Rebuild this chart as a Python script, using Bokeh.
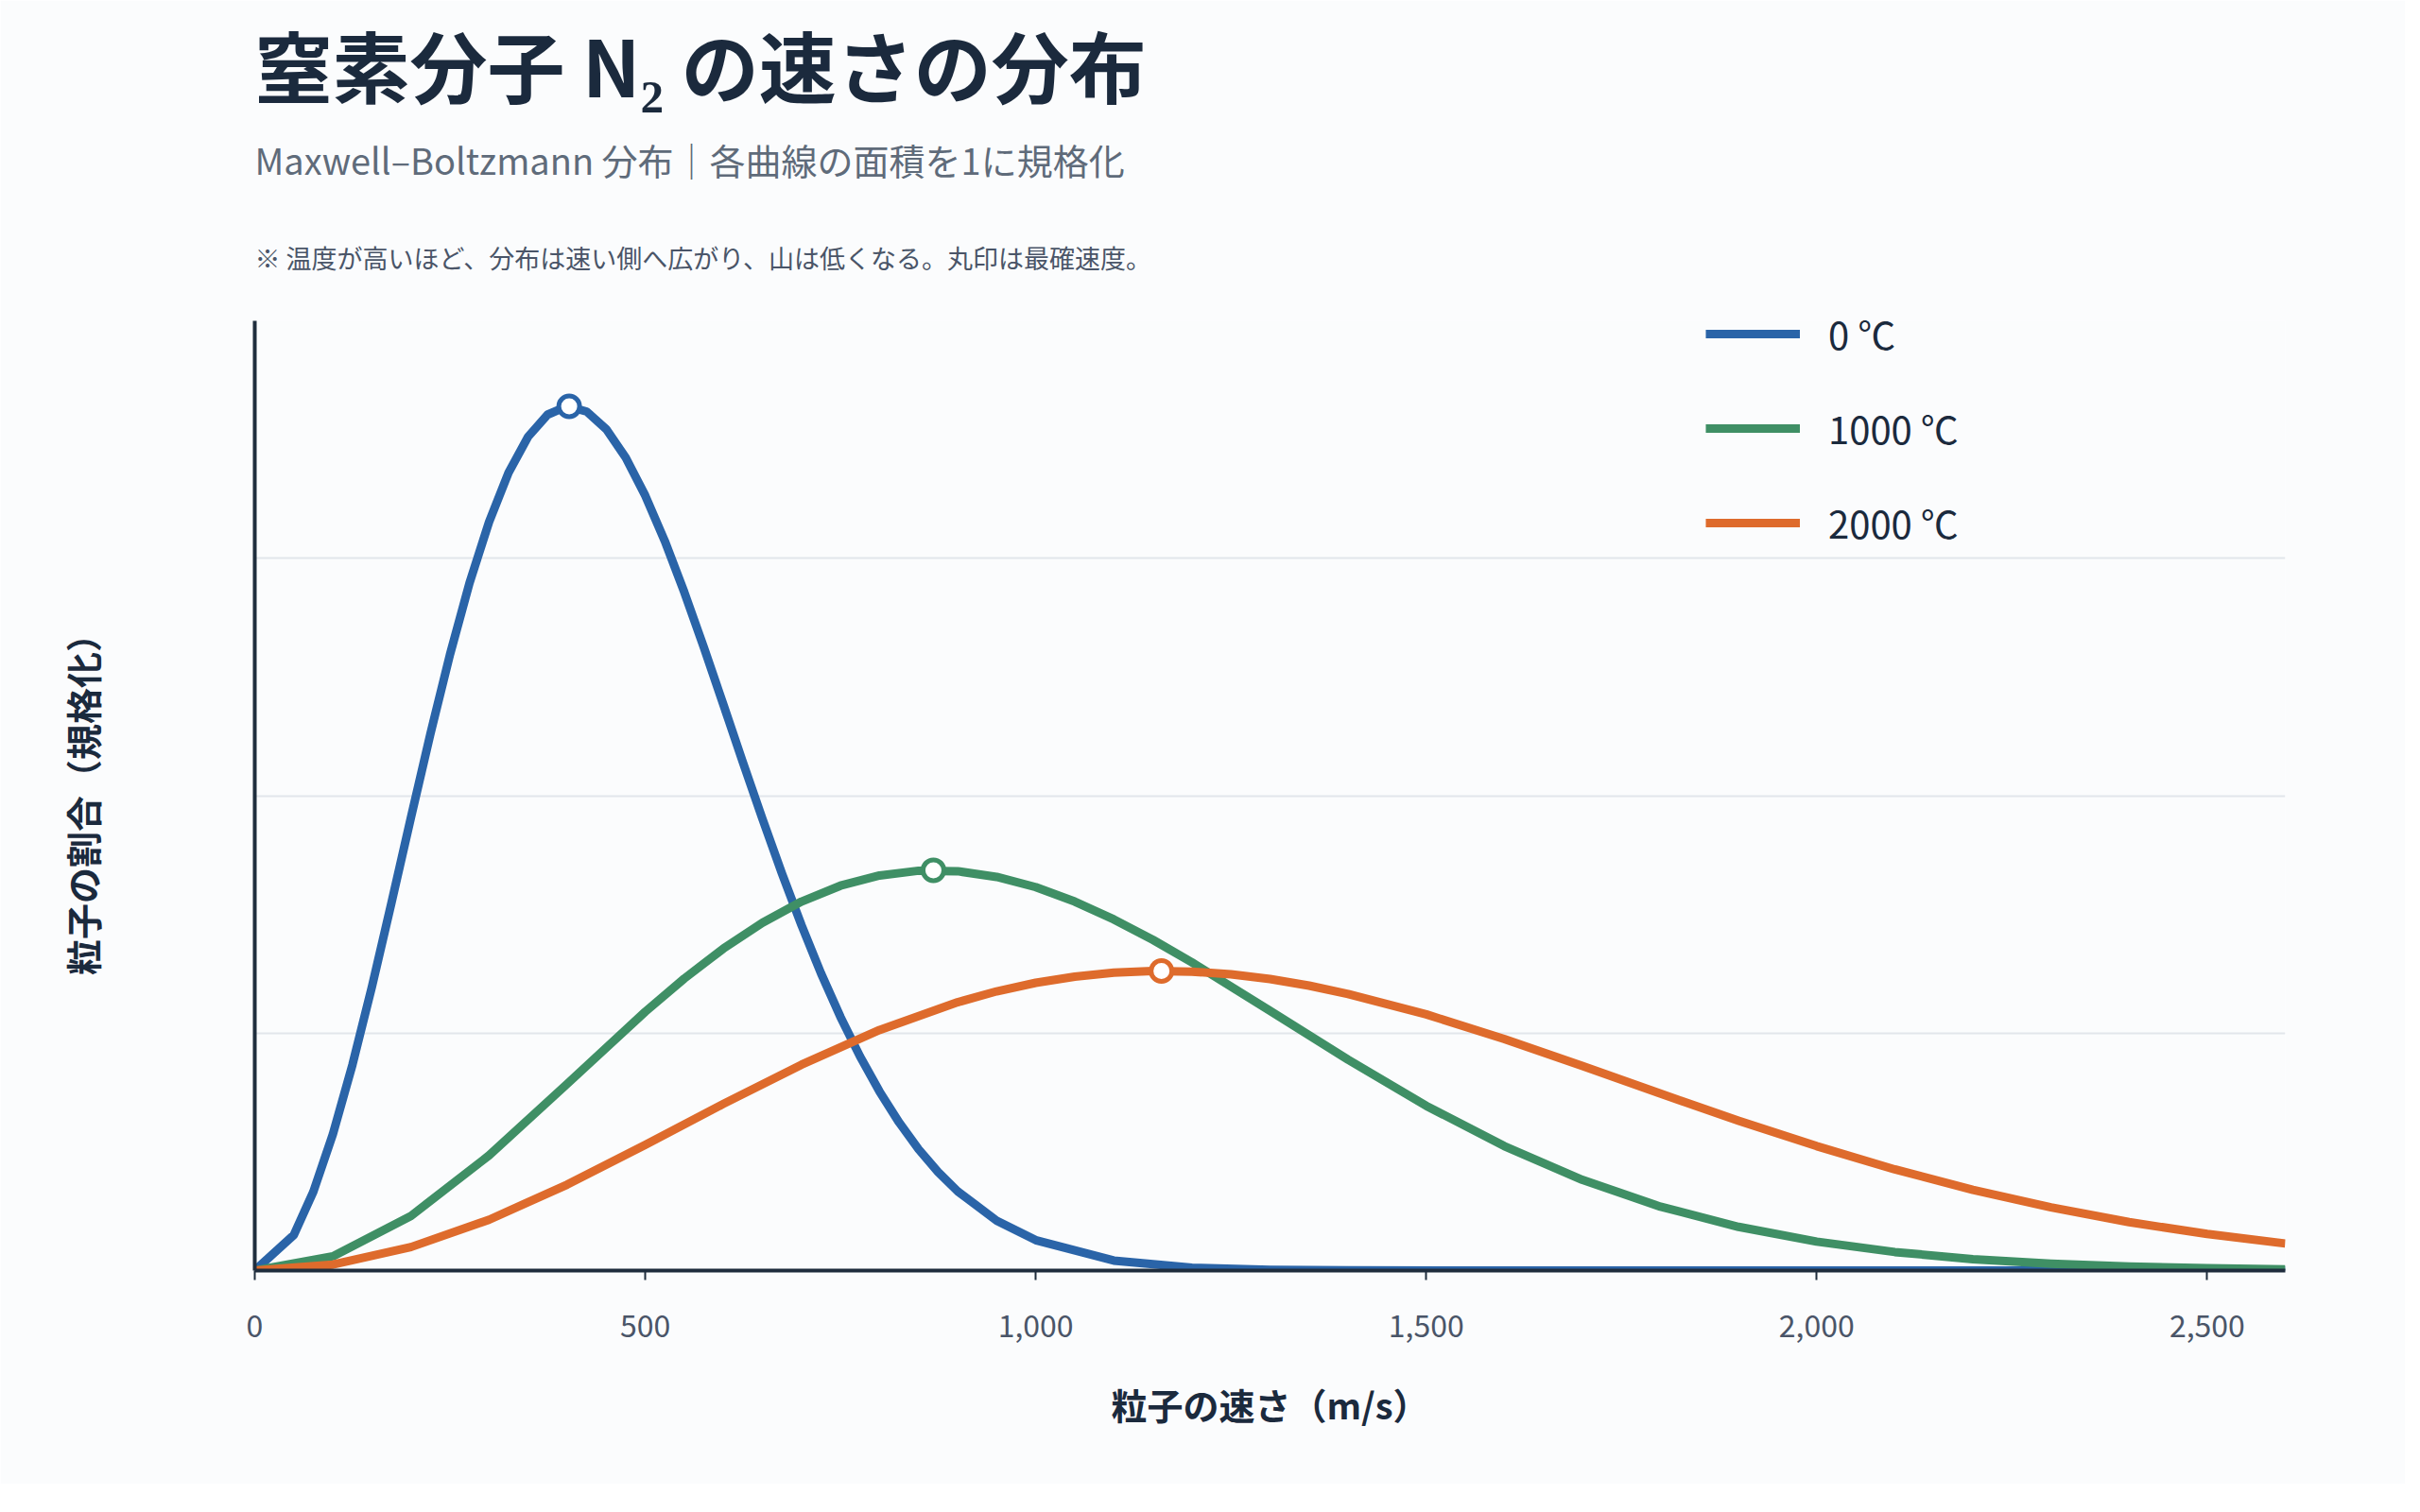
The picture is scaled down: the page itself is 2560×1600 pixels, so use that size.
from bokeh.plotting import figure
from bokeh.models import Title, Legend, LegendItem, FixedTicker, NumeralTickFormatter, CustomJSTickFormatter
from bokeh.embed import file_html
from bokeh.resources import INLINE

FONT = "Noto Sans CJK JP"

speed_blue = [0, 50, 75, 100, 125, 150, 175, 200, 225, 250, 275, 300, 325, 350, 375, 400, 425, 450,
              475, 500, 525, 550, 575, 600, 625, 650, 675, 700, 725, 750, 775, 800, 825, 850, 875,
              900, 950, 1000, 1100, 1200, 1300, 1400, 1600, 2000, 2600]
blue = [0, 0.150, 0.332, 0.574, 0.866, 1.195, 1.548, 1.908, 2.262, 2.595, 2.896, 3.153, 3.361,
        3.512, 3.605, 3.640, 3.618, 3.544, 3.424, 3.264, 3.073, 2.857, 2.625, 2.384, 2.141,
        1.903, 1.673, 1.455, 1.252, 1.068, 0.902, 0.754, 0.624, 0.511, 0.415, 0.334, 0.210,
        0.128, 0.042, 0.012, 0.003, 0.001, 0, 0, 0]

speed_green = [0, 100, 200, 300, 400, 500, 550, 600, 650, 700, 750, 800, 850, 900, 950, 1000,
               1050, 1100, 1150, 1200, 1300, 1400, 1500, 1600, 1700, 1800, 1900, 2000, 2100,
               2200, 2300, 2400, 2500, 2600]
green = [0, 0.060, 0.230, 0.485, 0.786, 1.090, 1.230, 1.356, 1.465, 1.554, 1.621, 1.664, 1.684,
         1.682, 1.658, 1.615, 1.554, 1.479, 1.393, 1.298, 1.094, 0.888, 0.694, 0.524, 0.382,
         0.269, 0.184, 0.122, 0.078, 0.048, 0.029, 0.017, 0.010, 0.005]

speed_orange = [0, 100, 200, 300, 400, 500, 600, 700, 800, 900, 950, 1000, 1050, 1100, 1150,
                1200, 1250, 1300, 1350, 1400, 1500, 1600, 1700, 1800, 1900, 2000, 2100, 2200,
                2300, 2400, 2500, 2600]
orange = [0, 0.025, 0.099, 0.214, 0.362, 0.529, 0.702, 0.867, 1.013, 1.130, 1.176, 1.212, 1.238,
          1.255, 1.262, 1.259, 1.248, 1.228, 1.200, 1.165, 1.079, 0.975, 0.862, 0.745, 0.631,
          0.524, 0.426, 0.340, 0.266, 0.204, 0.154, 0.114]

labels = ["0 ℃", "1000 ℃", "2000 ℃"]
colors = ["#2a64a8", "#3f8f65", "#de6b2c"]
peak_speed = [402.6, 869, 1161]
peak_value = [3.640, 1.686, 1.262]

p = figure(width=2544, height=1570, x_range=(0, 2600), y_range=(0, 4),
           output_backend="svg", toolbar_location=None,
           background_fill_color="#fbfcfd", border_fill_color="#fbfcfd",
           min_border_left=269, min_border_right=127, min_border_bottom=226, min_border_top=20)
p.outline_line_color = None
p.title = None

note = Title(text="※ 温度が高いほど、分布は速い側へ広がり、山は低くなる。丸印は最確速度。",
             text_font=FONT, text_font_size="27px", text_color="#4a5568", text_font_style="normal",
             standoff=95)
sub = Title(text="Maxwell–Boltzmann 分布｜各曲線の面積を1に規格化", text_font=FONT,
            text_font_size="38px", text_color="#5f6b7a", text_font_style="normal", standoff=15)
main = Title(text="窒素分子 N₂ の速さの分布", text_font=FONT, text_font_size="82px",
             text_color="#1b2a3d", text_font_style="bold", standoff=10)
p.add_layout(note, "above")
p.add_layout(sub, "above")
p.add_layout(main, "above")

r1 = p.line(speed_blue, blue, line_color=colors[0], line_width=9, line_join="round")
r2 = p.line(speed_green, green, line_color=colors[1], line_width=9, line_join="round")
r3 = p.line(speed_orange, orange, line_color=colors[2], line_width=9, line_join="round")
p.scatter(peak_speed, peak_value, size=22, fill_color="white", line_color=colors, line_width=5)

legend = Legend(items=[LegendItem(label=labels[0], renderers=[r1]),
                       LegendItem(label=labels[1], renderers=[r2]),
                       LegendItem(label=labels[2], renderers=[r3])],
                location=(1535, 762), background_fill_alpha=0, border_line_color=None,
                label_text_font=FONT, label_text_font_size="40px", label_text_color="#1b2a3d",
                glyph_width=100, glyph_height=40, spacing=42, label_standoff=30)
p.add_layout(legend)

p.xgrid.grid_line_color = None
p.ygrid.grid_line_color = "#e2e6eb"
p.ygrid.grid_line_width = 2
p.yaxis.ticker = FixedTicker(ticks=[0, 1, 2, 3, 4])
p.yaxis.formatter = CustomJSTickFormatter(code="return ''")
p.yaxis.major_tick_line_color = None
p.yaxis.minor_tick_line_color = None
p.yaxis.axis_line_color = "#1f2d3d"
p.yaxis.axis_line_width = 4
p.yaxis.axis_label = "粒子の割合（規格化）"
p.yaxis.axis_label_standoff = 150

p.xaxis.ticker = FixedTicker(ticks=[0, 500, 1000, 1500, 2000, 2500])
p.xaxis.formatter = NumeralTickFormatter(format="0,0")
p.xaxis.axis_line_color = "#1f2d3d"
p.xaxis.axis_line_width = 4
p.xaxis.major_tick_line_color = "#1f2d3d"
p.xaxis.major_tick_line_width = 2
p.xaxis.major_tick_out = 10
p.xaxis.major_tick_in = 0
p.xaxis.minor_tick_line_color = None
p.xaxis.major_label_text_font_size = "32px"
p.xaxis.major_label_text_color = "#4a5568"
p.xaxis.major_label_text_font = FONT
p.xaxis.major_label_standoff = 36
p.xaxis.axis_label = "粒子の速さ（m/s）"
p.xaxis.axis_label_standoff = 40

for ax in (p.xaxis, p.yaxis):
    ax.axis_label_text_font = FONT
    ax.axis_label_text_font_size = "38px"
    ax.axis_label_text_font_style = "bold"
    ax.axis_label_text_color = "#1b2a3d"

open("out.html", "w").write(file_html(p, INLINE))
